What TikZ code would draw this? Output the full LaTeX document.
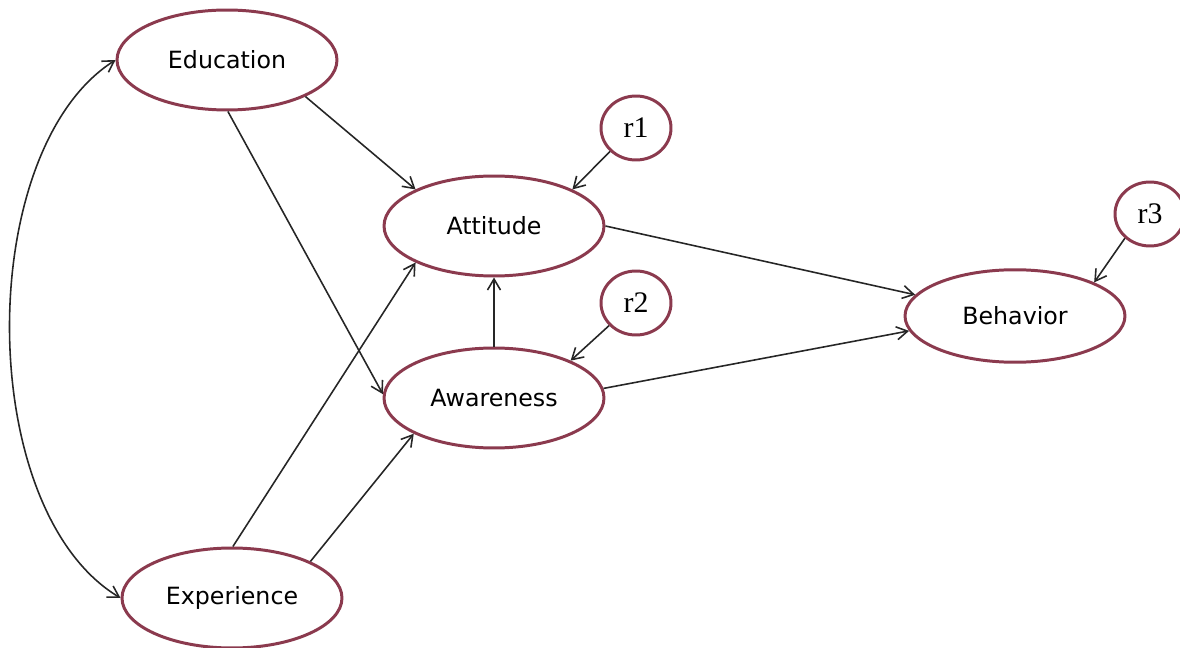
\documentclass[tikz,border=0pt]{standalone}
\usepackage{fontspec}
\usepackage{tikz}
\usepackage{xcolor}
\usetikzlibrary{arrows.meta,shapes.geometric}
\setmainfont{DejaVu Sans}
\newfontfamily\rfont{Liberation Serif}
\definecolor{rim}{HTML}{8B3A4E}

\begin{document}
\begin{tikzpicture}[x=0.02cm,y=-0.02cm,>={Straight Barb[length=2.2mm,width=2.6mm]},
    latent/.style={ellipse,draw=rim,line width=1.7pt,minimum width=4.4cm,minimum height=2cm,inner sep=0pt,font=\fontsize{13.5}{15}\selectfont},
    resid/.style={ellipse,draw=rim,line width=1.7pt,minimum width=1.4cm,minimum height=1.28cm,inner sep=0pt,font=\rfont\fontsize{17}{19}\selectfont},
    path/.style={->,line width=0.9pt,black!85}]
    \useasboundingbox (0,0) rectangle (1180,648);
    % latent variables
    \node[latent] (edu) at (227,60) {Education};
    \node[latent] (exp) at (232,598) {Experience};
    \node[latent] (att) at (494,226) {Attitude};
    \node[latent] (awa) at (494,398) {Awareness};
    \node[latent,minimum height=1.85cm] (beh) at (1015,316) {Behavior};
    % residuals
    \node[resid] (r1) at (636,128) {r1};
    \node[resid] (r2) at (636,303) {r2};
    \node[resid] (r3) at (1150,214) {r3};
    % paths
    \draw[path] (edu.-25) -- (att.155);
    \draw[path] (edu.-89) -- (awa.178);
    \draw[path] (exp.89) -- (att.205);
    \draw[path] (exp.25) -- (awa.204);
    \draw[path] (awa.90) -- (att.-90);
    \draw[path] (att.0) -- (beh.168);
    \draw[path] (awa.5) -- (beh.188);
    \draw[path] (r1.222) -- (att.25);
    \draw[path] (r2.220) -- (awa.26);
    \draw[path] (r3.224) -- (beh.23);
    % covariance
    \draw[<->,line width=0.9pt,black!85] (edu.west) .. controls (-26,150) and (-26,510) .. (exp.west);
\end{tikzpicture}
\end{document}
